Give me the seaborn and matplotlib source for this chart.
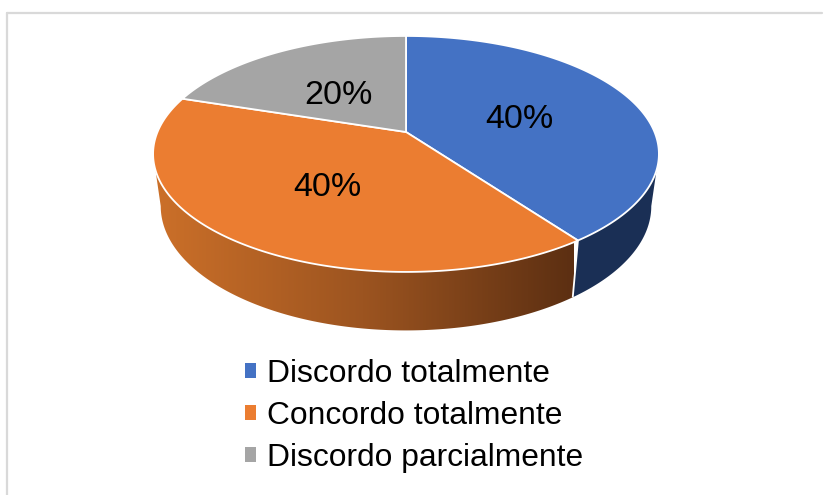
import numpy as np
import matplotlib
matplotlib.use("Agg")
import matplotlib.pyplot as plt
from matplotlib.patches import Polygon, Patch
from matplotlib.colors import LinearSegmentedColormap
import seaborn as sns

categories = ["Discordo totalmente", "Concordo totalmente", "Discordo parcialmente"]
values = [40, 40, 20]
colors = ["#4472C4", "#EB7D31", "#A5A5A5"]
wall_blue = "#1A2F55"
wall_orange = ["#CC7029", "#9C5420", "#5C2F12"]

sns.set_theme(style="white")
plt.rcParams["font.family"] = ["Liberation Sans", "DejaVu Sans"]
palette = sns.color_palette(colors)

fig = plt.figure(figsize=(8.24, 4.95), dpi=100)
ax = fig.add_axes([0, 0, 1, 1])
ax.axis("off")

TILT = 0.186


def rim(theta, x0=406.0, y0=132.0, a=248.5, b=113.9, c=TILT):
    """Perspective projection of a tilted disc; theta clockwise from 12 o'clock."""
    u, v = np.sin(theta), np.cos(theta)
    d = 1 + c * v
    return x0 + a * u / d, y0 - b * v / d


def low(theta):
    return rim(theta, y0=183.0, a=241.0, b=120.0)


def wall_points(t0, t1):
    th = np.linspace(t0, t1, 200)
    xt, yt = rim(th)
    xb, yb = low(th)
    return list(zip(xt, yt)) + list(zip(xb[::-1], yb[::-1]))


edges = np.radians(np.cumsum([0] + values) / sum(values) * 360)
# angles at which the disc reaches its widest point on screen
side_r = np.arccos(-TILT)
side_l = 2 * np.pi - side_r

# frame
ax.plot([7, 7], [495, 13], color="#D9D9D9", lw=1.6, zorder=1)
ax.plot([7, 822], [13, 13], color="#D9D9D9", lw=1.6, zorder=1)

# side wall: blue part flat, orange part with a horizontal gradient clipped to its shape
blue_wall = Polygon(wall_points(side_r, edges[1]), closed=True,
                    facecolor=wall_blue, edgecolor="none", zorder=2)
ax.add_patch(blue_wall)

cmap_o = LinearSegmentedColormap.from_list("o", wall_orange)
orange_wall = Polygon(wall_points(edges[1], side_l), closed=True,
                      facecolor="none", edgecolor="none", transform=ax.transData)
ax.add_patch(orange_wall)
grad = ax.imshow(np.linspace(0, 1, 512)[None, :], cmap=cmap_o, aspect="auto",
                 extent=(153, 574, 340, 100), zorder=2, interpolation="bilinear")
grad.set_clip_path(orange_wall)
ax.set_xlim(0, 824)
ax.set_ylim(495, 0)

# white seam on the wall between blue and orange
sx = [rim(edges[1])[0], low(edges[1])[0]]
sy = [rim(edges[1])[1], low(edges[1])[1]]
ax.plot(sx, sy, color="white", lw=1.3, zorder=3, solid_capstyle="butt")

# top surface
for i in range(len(values)):
    th = np.linspace(edges[i], edges[i + 1], 240)
    x, y = rim(th)
    pts = [(406.0, 132.0)] + list(zip(x, y))
    ax.add_patch(Polygon(pts, closed=True, facecolor=palette[i], edgecolor="white",
                         lw=1.3, joinstyle="round", zorder=4))

# percentage labels
label_xy = [(519, 120), (327, 187), (338, 95)]
for v, (lx, ly) in zip(values, label_xy):
    ax.text(lx, ly, f"{v}%", fontsize=24.5, color="black", ha="center", va="center", zorder=5)

# legend
handles = [Patch(facecolor=c, edgecolor="none") for c in palette]
ax.legend(handles, categories, loc="center left", bbox_to_anchor=(229 / 824, 1 - 416 / 495),
          frameon=False, fontsize=22.9, handlelength=0.36, handleheight=0.36, handletextpad=0.33,
          labelspacing=0.37, borderpad=0, borderaxespad=0.5, labelcolor="black")

fig.savefig("out.png", dpi=100, facecolor="white")
